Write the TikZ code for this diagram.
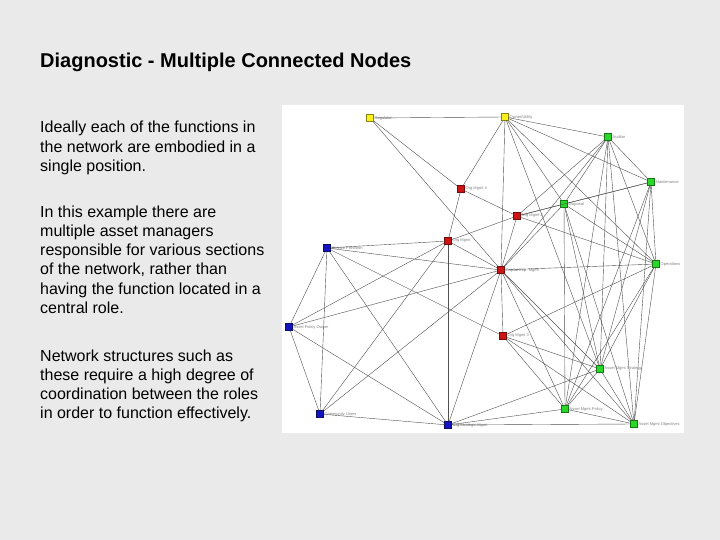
\documentclass[tikz,border=0pt]{standalone}
\usepackage{fontspec}
\setmainfont{Liberation Sans}
\usepackage{xcolor}
\usetikzlibrary{positioning}
\definecolor{slidegray}{RGB}{234,234,234}
\definecolor{ownyellow}{RGB}{250,240,30}
\definecolor{mgmtred}{RGB}{205,20,20}
\definecolor{rolegreen}{RGB}{40,215,40}
\definecolor{userblue}{RGB}{20,20,190}
\definecolor{linkgray}{RGB}{80,80,80}

\begin{document}
\begin{tikzpicture}[x=1pt,y=-1pt,
  box/.style={draw=#1!55!black, fill=#1, minimum size=7pt, inner sep=0pt, line width=0.4pt},
  tag/.style={font=\fontsize{4}{4}\selectfont, text=gray, inner sep=0.8pt},
  link/.style={draw=linkgray, line width=0.4pt},
  para/.style={font=\fontsize{16}{19.3}\selectfont, align=left, anchor=base west, inner sep=0pt}]
% Slide background and picture panel
\useasboundingbox (0,0) rectangle (720,540);
\fill[slidegray] (0,0) rectangle (720,540);
\fill[white] (282,105) rectangle (684,433);

% Title and text (anchored at the baseline of the last line)
\node[anchor=base west, inner sep=0pt, font=\bfseries\fontsize{20}{24}\selectfont] (title) at (40,68) {Diagnostic - Multiple Connected Nodes};
\node[para] (ideal) at (40,171.6) {Ideally each of the functions in\\the network are embodied in a\\single position.};
\node[para] (example) at (40,313.5) {In this example there are\\multiple asset managers\\responsible for various sections\\of the network, rather than\\having the function located in a\\central role.};
\node[para] (struct) at (40,418.9) {Network structures such as\\these require a high degree of\\coordination between the roles\\in order to function effectively.};

% Owners (yellow)
\node[box=ownyellow, label={[tag]right:Regulator}] (y1) at (370,118) {};
\node[box=ownyellow, label={[tag]right:Owner/Utility}] (y2) at (505,117) {};

% Managers (red)
\node[box=mgmtred, label={[tag]right:Org Mgmt 4}] (r1) at (461,189) {};
\node[box=mgmtred, label={[tag]right:Org Mgmt 2}] (r2) at (517,216) {};
\node[box=mgmtred, label={[tag]right:Org Mgmt}] (r3) at (448,241) {};
\node[box=mgmtred, label={[tag]right:Capital Exp. Mgmt}] (r4) at (501,270) {};
\node[box=mgmtred, label={[tag]right:Org Mgmt 3}] (r5) at (503,336) {};

% Functions (green)
\node[box=rolegreen, label={[tag]right:Auditor}] (g1) at (608,137) {};
\node[box=rolegreen, label={[tag]right:Maintenance}] (g2) at (651,182) {};
\node[box=rolegreen, label={[tag]right:Disposal}] (g3) at (564,204) {};
\node[box=rolegreen, label={[tag]right:Operations}] (g4) at (656,264) {};
\node[box=rolegreen, label={[tag]right:Asset Mgmt Strategy}] (g5) at (600,369) {};
\node[box=rolegreen, label={[tag]right:Asset Mgmt Policy}] (g6) at (565,409) {};
\node[box=rolegreen, label={[tag]right:Asset Mgmt Objectives}] (g7) at (634,424) {};

% Users (blue)
\node[box=userblue, label={[tag]right:Service Provision}] (b1) at (327,248) {};
\node[box=userblue, label={[tag]right:Asset Policy Owner}] (b2) at (289,327) {};
\node[box=userblue, label={[tag]right:Community Users}] (b3) at (320,414) {};
\node[box=userblue, label={[tag]right:Org Strategic Mgmt}] (b4) at (448,425) {};

% Links
\foreach \a/\b in {y1/y2, y1/r1, y1/r4, y2/r1, y2/r4, y2/g1, y2/g2, y2/g3, y2/g4, y2/g5,
    g1/g2, g1/g3, g1/g4, g1/g5, g1/g6, g1/g7, g1/r2, g1/r4,
    g2/g3, g2/g4, g2/g5, g2/g6, g2/g7, g2/r2,
    g3/g4, g3/g5, g3/g6, g3/g7, g3/r2, g3/r4,
    g4/g5, g4/g6, g4/g7, g4/r2, g4/r4, g4/r5,
    g5/g6, g5/g7, g5/r4, g5/r5, g5/b4,
    g6/g7, g6/r4, g6/r5, g6/b4,
    g7/r4, g7/r5, g7/b4,
    r1/r2, r1/r3, r2/r3, r2/r4, r4/r5, r5/b1,
    r3/b1, r3/b2, r3/b3, r3/b4, r3/r4,
    r4/b1, r4/b2, r4/b3, r4/b4,
    b1/b2, b1/b3, b1/b4, b2/b3, b2/b4, b3/b4}
  \draw[link] (\a) -- (\b);
\end{tikzpicture}
\end{document}
